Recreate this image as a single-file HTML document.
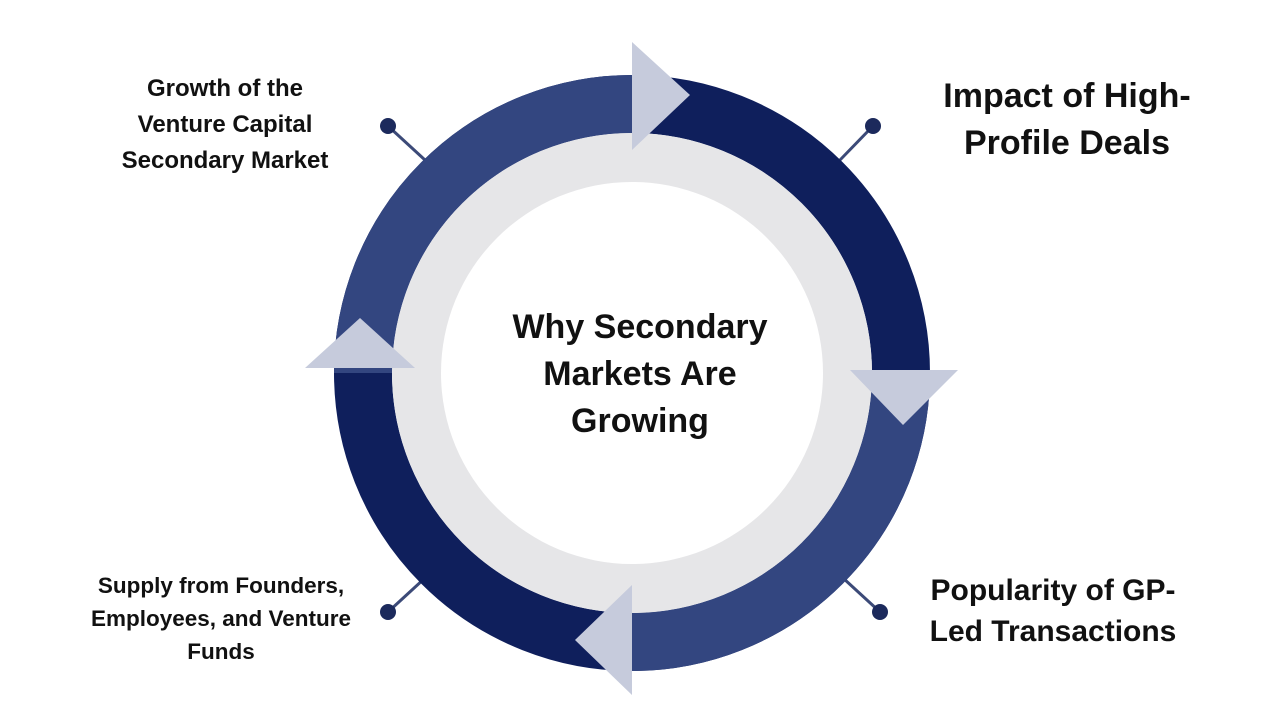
<!DOCTYPE html>
<html><head><style>
html,body{margin:0;padding:0;background:#fff;}
body{width:1280px;height:720px;position:relative;overflow:hidden;font-family:"Liberation Sans",sans-serif;font-weight:bold;color:#111;}
.t{position:absolute;text-align:center;white-space:nowrap;}
</style></head><body>
<svg width="1280" height="720" style="position:absolute;left:0;top:0">
  <g stroke="#3c4a78" stroke-width="3">
    <line x1="388" y1="126" x2="425" y2="160"/>
    <line x1="873" y1="126" x2="840" y2="160"/>
    <line x1="388" y1="612" x2="425" y2="578"/>
    <line x1="880" y1="612" x2="843" y2="578"/>
  </g>
  <g fill="#1c2a5c">
    <circle cx="388" cy="126" r="8"/><circle cx="873" cy="126" r="8"/>
    <circle cx="388" cy="612" r="8"/><circle cx="880" cy="612" r="8"/>
  </g>
  <circle cx="632" cy="373" r="269" fill="none" stroke="#0f1f5c" stroke-width="58"/>
  <path d="M363 373 A269 269 0 0 1 632 104" fill="none" stroke="#334680" stroke-width="58"/>
  <path d="M901 373 A269 269 0 0 1 632 642" fill="none" stroke="#334680" stroke-width="58"/>
  <circle cx="632" cy="373" r="240" fill="#e6e6e8"/>
  <circle cx="632" cy="373" r="191" fill="#fff"/>
  <g fill="#c6cbdc">
    <polygon points="632,42 690,95 632,150"/>
    <polygon points="850,370 958,370 903,425"/>
    <polygon points="632,585 632,695 575,640"/>
    <polygon points="305,368 415,368 360,318"/>
  </g>
</svg>
<div class="t" style="left:75px;top:71px;width:300px;font-size:24px;line-height:36px;">Growth of the<br>Venture Capital<br>Secondary Market</div>
<div class="t" style="left:900px;top:73px;width:334px;font-size:34px;line-height:47px;">Impact of High-<br>Profile Deals</div>
<div class="t" style="left:890px;top:570px;width:326px;font-size:30px;line-height:41px;">Popularity of GP-<br>Led Transactions</div>
<div class="t" style="left:50px;top:569px;width:342px;font-size:22.5px;line-height:33px;">Supply from Founders,<br>Employees, and Venture<br>Funds</div>
<div class="t" style="left:440px;top:304px;width:400px;font-size:34px;line-height:47px;">Why Secondary<br>Markets Are<br>Growing</div>
</body></html>
